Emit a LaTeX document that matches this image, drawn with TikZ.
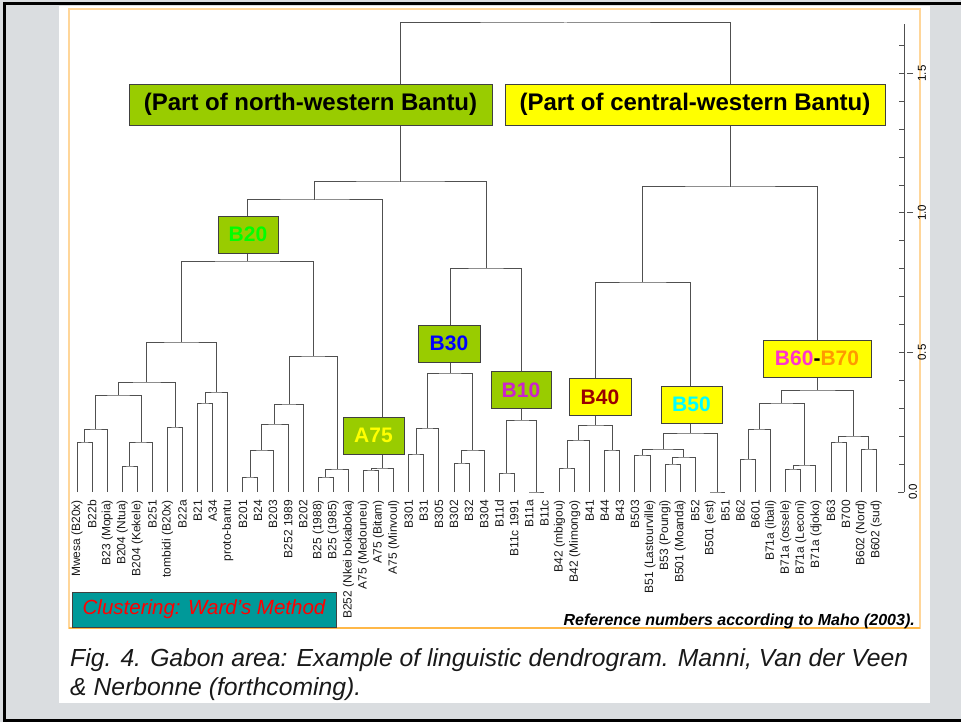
\documentclass[tikz,border=0pt]{standalone}
\usepackage{fontspec}
\setmainfont{Liberation Sans}
\usetikzlibrary{calc}

\definecolor{marble}{HTML}{DADDE0}
\definecolor{framebeige}{HTML}{FFD699}
\definecolor{frameorange}{HTML}{FFB848}
\definecolor{linegray}{HTML}{505050}
\definecolor{boxedge}{HTML}{404040}
\definecolor{grassgreen}{HTML}{99CC00}
\definecolor{boxyellow}{HTML}{FFFF00}
\definecolor{wardteal}{HTML}{009999}
\definecolor{txtgreen}{HTML}{00FF00}
\definecolor{txtblue}{HTML}{0000FF}
\definecolor{txtmagenta}{HTML}{CC22CC}
\definecolor{txtdarkred}{HTML}{990000}
\definecolor{txtcyan}{HTML}{00FFFF}
\definecolor{txtpink}{HTML}{FF33CC}
\definecolor{txtorange}{HTML}{FF9900}

\newcommand\fs[1]{\fontsize{#1}{#1}\selectfont}
% join two clusters at height #4 (pixels from the top)
\newcommand\merge[4]{%
  \path let \p1=($(#2)!.5!(#3)$), \p2=(0,#4) in (\x1,\y2) coordinate (#1);
  \draw[branch] (#2) |- (#1) -| (#3);}

\begin{document}
\begin{tikzpicture}[x=1pt, y=-1pt,
  branch/.style={draw=linegray, line width=1pt},
  grp/.style={draw=boxedge, line width=0.8pt, minimum height=37pt, inner sep=0pt, font=\fs{21}\bfseries},
  part/.style={draw=boxedge, line width=0.8pt, minimum height=41pt, inner sep=0pt, font=\fs{24}\bfseries},
  leaf/.style={rotate=90, anchor=east, inner sep=0pt, font=\fs{12}, text=black!90},
  axis/.style={draw=linegray, line width=1pt},
  axlab/.style={rotate=90, inner sep=0pt, font=\fs{11.5}}]
  \useasboundingbox (0,0) rectangle (961,722);
  % background and frames
  \fill[marble] (0,0) rectangle (961,722);
  \draw[black, line width=3pt] (962,4) -- (4.5,4) -- (4.5,720) -- (962,720);
  \fill[white] (59,6) rectangle (930,703);
  \draw[framebeige, line width=1.5pt] (69,9) rectangle (920,628);
  \draw[frameorange, line width=1.5pt] (69,628) -- (920,628);
  % leaves
  \foreach \i in {1,...,54}{\coordinate (l\i) at ({77+15.08*(\i-1)},492);}
  \foreach \t [count=\i] in {Mwesa (B20x), B22b, B23 (Mopia), B204 (Ntua), B204 (Kekele), B251,
      tombidi (B20x), B22a, B21, A34, proto-bantu, B201, B24, B203, B252 1989, B202,
      B25 (1988), B25 (1985), B252 (Nkei bokaboka), A75 (Medouneu), A75 (Bitam), A75 (Minvoul),
      B301, B31, B305, B302, B32, B304, B11d, B11c 1991, B11a, B11c,
      B42 (mbigou), B42 (Mimongo), B41, B44, B43,
      B503, B51 (Lastourville), B53 (Poungi), B501 (Moanda), B52, B501 (est), B51,
      B62, B601, B71a (ibali), B71a (ossele), B71a (Leconi), B71a (djoko),
      B63, B700, B602 (Nord), B602 (sud)}{
    \node[leaf] (t\i) at ($(l\i)+(0,8)$) {\t};}
  % north-western part
  \merge{a1}{l1}{l2}{442} \merge{a2}{a1}{l3}{429}
  \merge{a3}{l4}{l5}{466} \merge{a4}{a3}{l6}{442}
  \merge{a5}{a2}{a4}{395} \merge{a6}{l7}{l8}{427}
  \merge{a7}{a5}{a6}{382} \merge{a8}{l9}{l10}{403}
  \merge{a9}{a8}{l11}{392} \merge{a10}{a7}{a9}{342}
  \merge{b1}{l12}{l13}{477} \merge{b2}{b1}{l14}{450}
  \merge{b3}{b2}{l15}{424} \merge{b4}{b3}{l16}{404}
  \merge{b5}{l17}{l18}{477} \merge{b6}{b5}{l19}{469}
  \merge{b7}{b4}{b6}{356} \merge{b8}{a10}{b7}{261}
  \merge{c1}{l20}{l21}{470} \merge{c2}{c1}{l22}{468}
  \merge{d1}{b8}{c2}{200}
  \merge{e1}{l23}{l24}{454} \merge{e2}{e1}{l25}{428}
  \merge{e3}{l26}{l27}{463} \merge{e4}{e3}{l28}{450}
  \merge{e5}{e2}{e4}{373}
  \merge{f1}{l29}{l30}{473} \merge{f2}{l31}{l32}{492}
  \merge{f3}{f1}{f2}{420} \merge{g1}{e5}{f3}{268}
  \merge{nw}{d1}{g1}{182}
  % central-western part
  \merge{h1}{l33}{l34}{468} \merge{h2}{h1}{l35}{440}
  \merge{h3}{l36}{l37}{450} \merge{h4}{h2}{h3}{425}
  \merge{i1}{l38}{l39}{455} \merge{i2}{l40}{l41}{464}
  \merge{i3}{i2}{l42}{457} \merge{i4}{i1}{i3}{449}
  \merge{i5}{l43}{l44}{492} \merge{i6}{i4}{i5}{433}
  \merge{j1}{h4}{i6}{282}
  \merge{k1}{l45}{l46}{459} \merge{k2}{k1}{l47}{429}
  \merge{k3}{l48}{l49}{469} \merge{k4}{k3}{l50}{465}
  \merge{k5}{k2}{k4}{403}
  \merge{k6}{l51}{l52}{442} \merge{k7}{l53}{l54}{449}
  \merge{k8}{k6}{k7}{436} \merge{k9}{k5}{k8}{390}
  \merge{cw}{j1}{k9}{187}
  \merge{root}{nw}{cw}{23}
  % group labels
  \node[part, fill=grassgreen, minimum width=363pt] (nwlab) at (310.5,104.5) {(Part of north-western Bantu)};
  \node[part, fill=boxyellow, minimum width=380pt] (cwlab) at (695,104.5) {(Part of central-western Bantu)};
  \node[grp, fill=grassgreen, text=txtgreen, minimum width=60pt] (B20) at (248,234.5) {B20};
  \node[grp, fill=grassgreen, text=txtblue, minimum width=62pt] (B30) at (449,343.5) {B30};
  \node[grp, fill=grassgreen, text=boxyellow, minimum width=61pt] (A75) at (373.5,435.5) {A75};
  \node[grp, fill=grassgreen, text=txtmagenta, minimum width=60pt] (B10) at (521,390) {B10};
  \node[grp, fill=boxyellow, text=txtdarkred, minimum width=62pt] (B40) at (600,397) {B40};
  \node[grp, fill=boxyellow, text=txtcyan, minimum width=61pt] (B50) at (691.5,404.5) {B50};
  \node[grp, fill=boxyellow, minimum width=108pt] (B6070) at (817,358.5)
    {\textcolor{txtpink}{B60}-\textcolor{txtorange}{B70}};
  % height axis
  \coordinate (ax0) at (904,492);
  \coordinate (axtop) at (904,24);
  \draw[axis] (ax0) -- (axtop);
  \foreach \k in {0,...,16}{\draw[axis] ($(ax0)+(0,-27.9*\k)$) -- ++(-5,0);}
  \foreach \v/\k in {0.0/0,0.5/5,1.0/10,1.5/15}{
    \draw[axis] ($(ax0)+(0,-27.9*\k)$) -- ++(-6.5,0);
    \node[axlab] (ax\k) at ($(ax0)+(9,-27.9*\k)$) {\v};}
  % notes and caption
  \node[draw=boxedge, line width=0.8pt, fill=wardteal, minimum width=264pt, minimum height=35pt,
    inner sep=0pt, text=red, font=\fs{20.5}\itshape] (ward) at (204,609.5) {Clustering: Ward’s Method};
  \node[anchor=base east, inner sep=0pt, font=\fs{16}\bfseries\itshape] (maho) at (915,625)
    {Reference numbers according to Maho (2003).};
  \node[anchor=base west, inner sep=0pt, font=\fs{24.7}\itshape, text=black!90] (cap1) at (70,666)
    {Fig. 4. Gabon area: Example of linguistic dendrogram. Manni, Van der Veen};
  \node[anchor=base west, inner sep=0pt, font=\fs{24.7}\itshape, text=black!90] (cap2) at (70,695)
    {\& Nerbonne (forthcoming).};
\end{tikzpicture}
\end{document}
